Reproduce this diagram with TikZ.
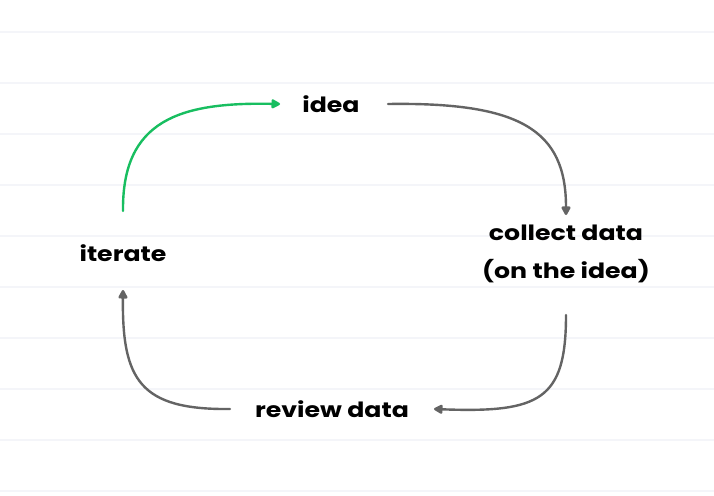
\documentclass[tikz,border=0pt]{standalone}
\usepackage{fontspec}
\setmainfont{Poppins}[FakeStretch=1.2]
\usetikzlibrary{arrows.meta}
\definecolor{rulecol}{RGB}{244,245,249}
\definecolor{arrgray}{RGB}{100,100,100}
\definecolor{arrgreen}{RGB}{24,190,96}
\begin{document}
\begin{tikzpicture}[x=1pt,y=-1pt,
  lbl/.style={font=\fontsize{21}{38}\selectfont\bfseries, inner sep=0pt, align=center, text=black},
  conn/.style={line width=2.4pt, draw=arrgray, line cap=round,
    -{Triangle[length=10pt,width=10pt,round]}}]
\useasboundingbox (0,0) rectangle (714,495);
\fill[white] (0,0) rectangle (714,495);
\foreach \yy in {32,83,134,185,236,287,338,389,440,491}
  \draw[rulecol, line width=1.3pt] (0,\yy) -- (714,\yy);
\node[lbl] (idea) at (331,104) {idea};
\node[lbl] (collect) at (566,254) {collect data\\(on the idea)};
\node[lbl] (iterate) at (123,253) {iterate};
\node[lbl] (review) at (332,409) {review data};
\draw[conn, draw=arrgreen] ([yshift=42pt]iterate.center) .. controls (122,120) and (180,102) .. ([xshift=-51pt]idea.center);
\draw[conn] ([xshift=57pt]idea.center) .. controls (520,102) and (566,130) .. ([yshift=39pt]collect.center);
\draw[conn] ([yshift=-61pt]collect.center) .. controls (566,400) and (540,413) .. ([xshift=102pt]review.center);
\draw[conn] ([xshift=-102pt]review.center) .. controls (140,410) and (122,380) .. ([yshift=-37pt]iterate.center);
\end{tikzpicture}
\end{document}
